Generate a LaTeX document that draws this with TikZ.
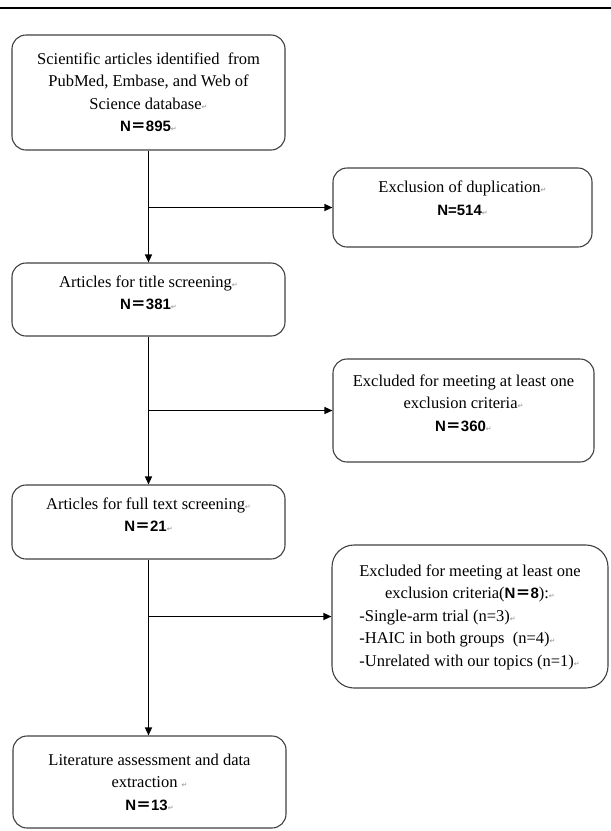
\documentclass[tikz,border=0pt]{standalone}
\usepackage{fontspec}
\setmainfont{Liberation Serif}
\newfontfamily\numfont{Liberation Sans}
\newfontfamily\cjkfont{Noto Sans CJK SC}
\newfontfamily\symfont{DejaVu Sans}
\usetikzlibrary{arrows.meta}

\newcommand\pmark{{\symfont\fontsize{7}{7}\selectfont\color{black!45}↵}}
\newcommand\nval[1]{{\numfont\bfseries\fontsize{15}{15}\selectfont N{\cjkfont ＝}#1}}

\tikzset{
  stagebox/.style={draw=black!75,line width=1.1pt,rounded corners=14pt,
    minimum width=273pt,align=center,inner sep=0pt},
  exbox/.style={stagebox,minimum width=260pt},
  flow/.style={line width=1.3pt,->}
}

\begin{document}
\begin{tikzpicture}[x=1pt,y=-1pt,>={Triangle[length=8pt,width=7pt]},
  font=\fontsize{16.5}{22.5}\selectfont]
 \useasboundingbox (0,0) rectangle (611,831);
 \draw[line width=2.2pt] (0,8) -- (611,8);

 % main column
 \node[stagebox,minimum height=115pt] (found) at (148.5,92.5)
   {Scientific articles identified\ \ from\\PubMed, Embase,\ and Web of\\Science database\pmark\\\nval{895}\pmark};
 \node[stagebox,minimum height=73pt,text depth=14pt] (title) at (148.5,299.5)
   {Articles for title\ screening\pmark\\\nval{381}\pmark};
 \node[stagebox,minimum height=74pt,text depth=15pt] (full) at (148.5,522)
   {Articles for full\ text screening\pmark\\\nval{21}\pmark};
 \node[stagebox,minimum height=92pt] (final) at (149.5,782)
   {Literature assessment\ and data\\extraction \pmark\\\nval{13}\pmark};

 % exclusions
 \node[exbox,minimum height=79pt,minimum width=259pt,text depth=19pt] (dup) at (462.5,207.5)
   {Exclusion of duplication\pmark\\{\numfont\bfseries\fontsize{15}{15}\selectfont N=514}\pmark};
 \node[exbox,minimum height=103pt,minimum width=261pt,text depth=15pt] (crit) at (463.5,410.5)
   {Excluded for meeting at least one\\exclusion criteria\pmark\\\nval{360}\pmark};
 \node[exbox,minimum height=143pt,minimum width=276pt,rounded corners=22pt] (crit8) at (470,616.5)
   {\begin{tabular}{@{}l@{}}
     \multicolumn{1}{@{}c@{}}{Excluded for meeting at least one}\\
     \multicolumn{1}{@{}c@{}}{exclusion criteria(\nval{8}):\pmark}\\
     -Single-arm trial (n=3)\pmark\\
     -HAIC in both groups\ \ (n=4)\pmark\\
     -Unrelated with our topics (n=1)\pmark
   \end{tabular}};

 % connectors
 \draw[flow] (found) -- (title);
 \draw[flow] (found.south |- dup.west) -- (dup);
 \draw[flow] (title) -- (full);
 \draw[flow] (title.south |- crit.west) -- (crit);
 \draw[flow] (full.south) -- (full.south |- final.north);
 \draw[flow] (full.south |- crit8.west) -- (crit8);
\end{tikzpicture}
\end{document}
